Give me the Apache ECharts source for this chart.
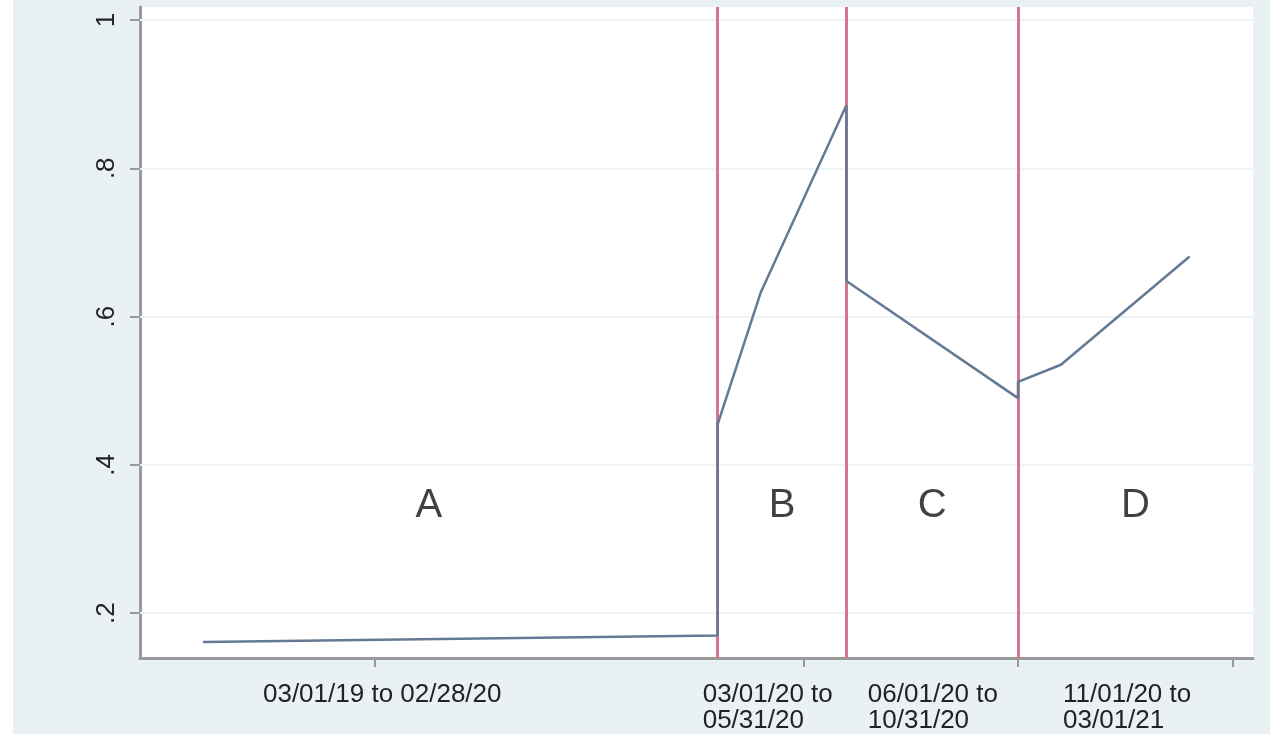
<!DOCTYPE html>
<html>
<head>
<meta charset="utf-8">
<script src="https://cdn.jsdelivr.net/npm/echarts@6/dist/echarts.min.js"></script>
<style>
  html, body { margin: 0; padding: 0; background: #fff; }
  #chart { width: 1270px; height: 734px; }
</style>
</head>
<body>
<div id="chart"></div>
<script>
// period index on x (ticks at 0..5), share on y
const lineX = [0.2, 2.6, 2.6, 2.8, 3.2, 3.2, 4.0, 4.0, 4.2, 4.8];
const lineY = [0.161, 0.170, 0.455, 0.632, 0.885, 0.648, 0.490, 0.512, 0.535, 0.681];

// period breaks (red lines)
const breakX = [2.6, 3.2, 4.0];
const regionNames = ['A', 'B', 'C', 'D'];
const regionLabelY = 0.345;

// x labels, left edge in x units
const periodLabels = ['03/01/19 to 02/28/20', '03/01/20 to\n05/31/20', '06/01/20 to\n10/31/20', '11/01/20 to\n03/01/21'];
const periodLabelX = [0.48, 2.53, 3.30, 4.21];
const xTicks = [1, 3, 4, 5];

const yTicks = [0.2, 0.4, 0.6, 0.8, 1];
const yTickLabels = ['.2', '.4', '.6', '.8', '1'];

const xMin = -0.0933, xMax = 5.0956;
const yMin = 0.1395, yMax = 1.0175;

const bounds = [xMin, ...breakX, xMax];
const regionData = regionNames.map((n, i) => ({
	name: n,
	value: [(bounds[i] + bounds[i + 1]) / 2, regionLabelY]
}));

const chart = echarts.init(document.getElementById('chart'));
chart.setOption({
	backgroundColor: '#e9f1f4',
	animation: false,
	graphic: [
		{ type: 'rect', left: 0, top: 0, shape: { width: 13, height: 734 }, style: { fill: '#ffffff' } }
	],
	grid: {
		left: 140, right: 17, top: 7, bottom: 74,
		show: true, backgroundColor: '#ffffff', borderWidth: 0
	},
	xAxis: {
		type: 'value',
		min: xMin, max: xMax,
		axisLine: { show: true, onZero: false, lineStyle: { color: '#9a9a9a', width: 3 } },
		axisTick: { show: true, customValues: xTicks, length: 9, lineStyle: { color: '#9a9a9a', width: 2 } },
		axisLabel: {
			customValues: periodLabelX,
			formatter: (v) => {
				const i = periodLabelX.findIndex(p => Math.abs(p - v) < 1e-6);
				return i >= 0 ? periodLabels[i] : '';
			},
			align: 'left',
			verticalAlign: 'top',
			margin: 24,
			lineHeight: 26,
			fontFamily: 'Liberation Sans',
			fontSize: 26,
			color: '#222'
		},
		splitLine: { show: false }
	},
	yAxis: {
		type: 'value',
		min: yMin, max: yMax,
		axisLine: { show: true, onZero: false, lineStyle: { color: '#9a9a9a', width: 3 } },
		axisTick: { show: true, customValues: yTicks, length: 10, lineStyle: { color: '#9a9a9a', width: 2 } },
		axisLabel: {
			customValues: yTicks,
			formatter: (v) => {
				const i = yTicks.findIndex(p => Math.abs(p - v) < 1e-6);
				return i >= 0 ? yTickLabels[i] : '';
			},
			rotate: 90,
			margin: 20,
			fontFamily: 'Liberation Sans',
			fontSize: 26,
			color: '#222'
		},
		splitLine: { show: false }
	},
	series: [
		{
			// grid lines and period breaks
			type: 'line',
			data: [],
			z: 1,
			silent: true,
			markLine: {
				symbol: 'none',
				silent: true,
				label: { show: false },
				data: [
					...yTicks.map(v => ({ yAxis: v, lineStyle: { color: '#eef3f3', width: 2, type: 'solid' } })),
					...breakX.map(v => ({ xAxis: v, lineStyle: { color: '#d6758c', width: 3, type: 'solid' } }))
				]
			}
		},
		{
			type: 'line',
			zlevel: 1,
			data: lineX.map((x, i) => [x, lineY[i]]),
			showSymbol: false,
			symbol: 'none',
			lineStyle: { color: '#647a93', width: 2.5 }
		},
		{
			type: 'scatter',
			zlevel: 1,
			symbolSize: 0,
			data: regionData,
			label: {
				show: true,
				position: 'inside',
				formatter: '{b}',
				fontFamily: 'Liberation Sans',
				fontSize: 40,
				color: '#111'
			}
		}
	]
});
</script>
</body>
</html>
